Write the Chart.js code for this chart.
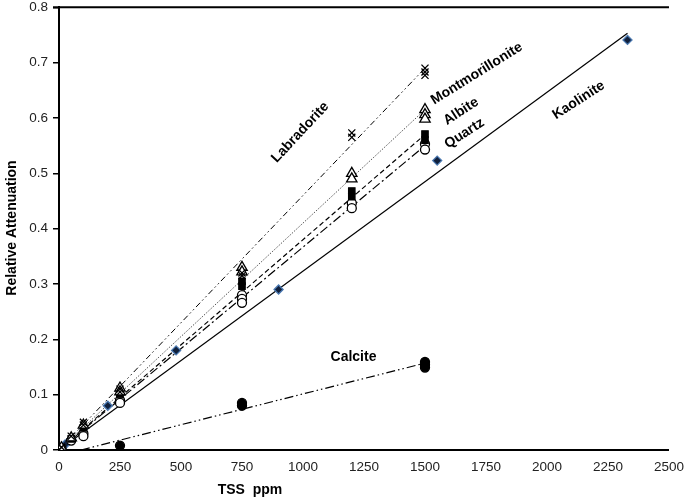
<!DOCTYPE html>
<html>
<head>
<meta charset="utf-8">
<script src="https://cdn.jsdelivr.net/npm/chart.js@4"></script>
<style>
  body { margin: 0; background: #fff; }
  #wrap { width: 685px; height: 501px; }
</style>
</head>
<body>
<div id="wrap"><canvas id="tss"></canvas></div>
<script>
// measured points, TSS (ppm) vs relative attenuation
const labX = [0, 10, 50, 100, 100, 250, 250, 750, 750, 1200, 1200, 1500, 1500, 1500];
const labY = [0, 0.005, 0.025, 0.05, 0.045, 0.11, 0.105, 0.32, 0.315, 0.573, 0.565, 0.69, 0.683, 0.677];

const monX = [0, 10, 50, 100, 250, 250, 750, 750, 1200, 1200, 1500, 1500, 1500];
const monY = [0, 0.004, 0.022, 0.045, 0.112, 0.105, 0.33, 0.322, 0.5, 0.49, 0.615, 0.606, 0.598];

const albX = [0, 10, 50, 100, 250, 250, 750, 750, 1200, 1200, 1500, 1500];
const albY = [0, 0.004, 0.02, 0.04, 0.105, 0.1, 0.305, 0.296, 0.468, 0.458, 0.571, 0.56];

const qtzX = [0, 10, 50, 100, 100, 250, 250, 750, 750, 750, 1200, 1200, 1500, 1500];
const qtzY = [0, 0.003, 0.017, 0.03, 0.025, 0.09, 0.085, 0.28, 0.273, 0.266, 0.446, 0.437, 0.553, 0.543];

const kaoX = [0, 25, 50, 100, 200, 480, 900, 1550, 2330];
const kaoY = [0, 0.01, 0.02, 0.04, 0.08, 0.18, 0.29, 0.523, 0.741];

const calX = [0, 10, 250, 750, 750, 1500, 1500, 1500];
const calY = [0, 0.002, 0.008, 0.08, 0.085, 0.149, 0.154, 0.159];

// trend lines (start and end)
const labFitX = [0, 1500], labFitY = [0, 0.69];
const monFitX = [0, 1500], monFitY = [0, 0.615];
const albFitX = [0, 1500], albFitY = [0, 0.57];
const qtzFitX = [0, 1500], qtzFitY = [0, 0.55];
const kaoFitX = [0, 2330], kaoFitY = [0, 0.753];
const calFitX = [90, 1500], calFitY = [0, 0.157];

const xTicks = [0, 250, 500, 750, 1000, 1250, 1500, 1750, 2000, 2250, 2500];
const yTicks = [0, 0.1, 0.2, 0.3, 0.4, 0.5, 0.6, 0.7, 0.8];

const pts = (xs, ys) => xs.map((x, i) => ({ x: x, y: ys[i] }));

function fit(xs, ys, dash, color, width) {
  return {
    data: pts(xs, ys),
    showLine: true,
    borderColor: color,
    borderWidth: width,
    borderDash: dash,
    pointRadius: 0,
    fill: false,
    order: 2
  };
}

function marks(label, xs, ys, style, bg, border, r) {
  return {
    label: label,
    data: pts(xs, ys),
    showLine: false,
    pointStyle: style,
    pointRadius: r,
    pointBackgroundColor: bg,
    pointBorderColor: border,
    pointBorderWidth: 1.3,
    order: 1
  };
}

// labels written next to the lines
const mineralText = {
  id: 'mineralText',
  afterDatasetsDraw(chart) {
    const { ctx, chartArea, scales } = chart;
    ctx.save();
    // top frame line
    ctx.strokeStyle = '#000';
    ctx.lineWidth = 2;
    ctx.beginPath();
    ctx.moveTo(chartArea.left - 6, chartArea.top);
    ctx.lineTo(chartArea.right, chartArea.top);
    ctx.stroke();

    const put = (txt, x, y, deg) => {
      ctx.save();
      ctx.translate(scales.x.getPixelForValue(x), scales.y.getPixelForValue(y));
      ctx.rotate(deg * Math.PI / 180);
      ctx.font = 'bold 14px "Liberation Sans", Arial, sans-serif';
      ctx.fillStyle = '#000';
      ctx.textAlign = 'center';
      ctx.textBaseline = 'middle';
      ctx.fillText(txt, 0, 0);
      ctx.restore();
    };
    put('Labradorite', 989, 0.574, -47);
    put('Montmorillonite', 1712, 0.68, -32);
    put('Albite', 1648, 0.612, -33);
    put('Quartz', 1662, 0.572, -33);
    put('Kaolinite', 2130, 0.632, -33);
    put('Calcite', 1207, 0.168, 0);

    // axis titles
    ctx.font = 'bold 14px "Liberation Sans", Arial, sans-serif';
    ctx.fillStyle = '#000';
    ctx.textAlign = 'center';
    ctx.textBaseline = 'middle';
    ctx.fillText('TSS  ppm', 250, 490);
    ctx.translate(12, 228);
    ctx.rotate(-Math.PI / 2);
    ctx.fillText('Relative Attenuation', 0, 0);
    ctx.restore();
  }
};

new Chart(document.getElementById('tss'), {
  type: 'scatter',
  data: {
    datasets: [
      fit(labFitX, labFitY, [6, 3, 1.5, 3, 1.5, 3], '#000', 1),
      fit(monFitX, monFitY, [1.5, 1.5], '#555', 1),
      fit(albFitX, albFitY, [5, 3], '#000', 1.2),
      fit(qtzFitX, qtzFitY, [9, 3, 2, 3], '#000', 1.2),
      fit(kaoFitX, kaoFitY, [], '#000', 1.2),
      fit(calFitX, calFitY, [9, 3, 1.5, 3, 1.5, 3], '#000', 1.2),
      marks('Labradorite', labX, labY, 'crossRot', '#000', '#000', 5),
      marks('Montmorillonite', monX, monY, 'triangle', '#fff', '#000', 6),
      marks('Albite', albX, albY, 'rect', '#000', '#000', 4.5),
      marks('Quartz', qtzX, qtzY, 'circle', '#fff', '#000', 4.5),
      marks('Kaolinite', kaoX, kaoY, 'rectRot', '#10203c', '#4a78b0', 4.5),
      marks('Calcite', calX, calY, 'circle', '#000', '#000', 4.5)
    ]
  },
  options: {
    responsive: true,
    maintainAspectRatio: false,
    animation: false,
    layout: { padding: { top: 7, right: 14, left: 0, bottom: 0 } },
    plugins: {
      legend: { display: false },
      tooltip: { enabled: false }
    },
    scales: {
      x: {
        type: 'linear',
        min: 0,
        max: 2500,
        afterBuildTicks: s => { s.ticks = xTicks.map(v => ({ value: v })); },
        afterFit: s => { s.height = 51; },
        grid: { display: false },
        border: { display: true, color: '#000', width: 2 },
        ticks: {
          padding: 1,
          color: '#222',
          font: { family: '"Liberation Sans", Arial, sans-serif', size: 13.5 },
          maxRotation: 0,
          callback: v => String(v)
        }
      },
      y: {
        type: 'linear',
        min: 0,
        max: 0.8,
        afterBuildTicks: s => { s.ticks = yTicks.map(v => ({ value: v })); },
        afterFit: s => { s.width = 59; s.paddingTop = 0; s.paddingBottom = 0; },
        grid: { display: true, drawOnChartArea: false, drawTicks: true, tickLength: 6, color: '#000', lineWidth: 1.5 },
        border: { display: true, color: '#000', width: 2 },
        ticks: {
          padding: 5,
          color: '#222',
          font: { family: '"Liberation Sans", Arial, sans-serif', size: 13.5 },
          callback: v => (v === 0 ? '0' : v.toFixed(1))
        }
      }
    }
  },
  plugins: [mineralText]
});
</script>
</body>
</html>
